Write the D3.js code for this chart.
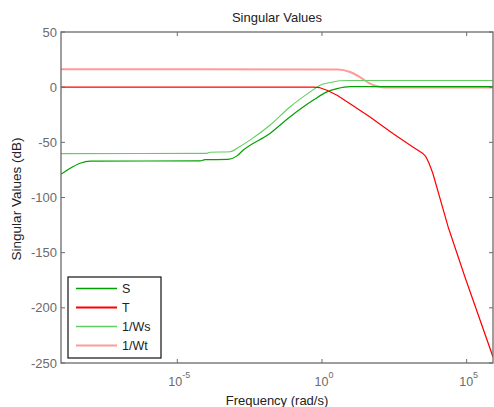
<!DOCTYPE html>
<html><head><meta charset="utf-8">
<script src="https://cdn.jsdelivr.net/npm/d3@7"></script>
<style>body{margin:0;background:#fff}svg{display:block;font-family:"Liberation Sans",Arial,sans-serif}</style>
</head><body><svg id="c" width="494" height="407"></svg>
<script>
// log10 frequency, dB
const sLogF = [-9.02,-8.70,-8.36,-8.01,-4.21,-4.04,-3.25,-2.95,-2.73,-1.80,-1.11,-0.31,0.17,0.52,0.97,5.91];
const sDb   = [-79,-73.5,-69,-67,-66.8,-65.7,-65.5,-62.5,-57.2,-42,-27,-11.9,-4.3,-1.3,0.5,0.5];
const tLogF = [-9.02,-0.31,-0.07,0.17,0.52,0.97,1.66,2.45,3.14,3.49,3.59,3.70,3.83,4.36,4.94,5.91];
const tDb   = [0,0,-0.5,-2.8,-7.3,-15,-27,-42,-54.2,-60.2,-63,-69,-78,-126.7,-172,-244.5];
const wsLogF = [-9.02,-3.97,-3.87,-3.18,-2.85,-2.49,-1.80,-1.11,-0.41,-0.07,0.28,0.62,0.97,5.91];
const wsDb   = [-60.2,-60,-59,-58.5,-54,-48,-34.5,-18,-4.3,1.7,4.2,5.8,6,6];
const wtLogF = [-9.02,0.55,0.97,1.31,1.66,1.90,2.18,5.91];
const wtDb   = [16.2,16,13.8,9.2,3.2,0.8,-0.4,-0.4];
const yTicks = [50,0,-50,-100,-150,-200,-250];
const xTickExp = [-5,0,5];
const seriesNames = ["S","T","1/Ws","1/Wt"];

const svg = d3.select("#c");
const L=61,R=493,T=32,B=363;
const x = d3.scaleLog().domain([Math.pow(10,-9.02),Math.pow(10,5.91)]).range([L,R]);
const y = d3.scaleLinear().domain([-250,50]).range([B,T]);
const axisCol="#6b6b6b";

const series = [
  {name:seriesNames[0], lf:sLogF, db:sDb, color:"#00a000", w:1.2, lw:1.4, c:d3.curveMonotoneX},
  {name:seriesNames[1], lf:tLogF, db:tDb, color:"#ff0000", w:1.2, lw:1.8, c:d3.curveLinear},
  {name:seriesNames[2], lf:wsLogF, db:wsDb, color:"#5fcf5f", w:1.1, lw:1.3, c:d3.curveMonotoneX},
  {name:seriesNames[3], lf:wtLogF, db:wtDb, color:"#ff9a9a", w:2, lw:2, c:d3.curveMonotoneX}
];
svg.append("defs").append("clipPath").attr("id","clip").append("rect")
  .attr("x",L).attr("y",T).attr("width",R-L).attr("height",B-T);
const g = svg.append("g").attr("clip-path","url(#clip)");
[3,2,0,1].forEach(i=>{
  const s=series[i];
  const line = d3.line().curve(s.c).x(d=>x(Math.pow(10,d[0]))).y(d=>y(d[1]));
  g.append("path").datum(s.lf.map((v,j)=>[v,s.db[j]]))
   .attr("d",line).attr("fill","none").attr("stroke",s.color).attr("stroke-width",s.w)
   .attr("stroke-linejoin","round");
});

// frame
svg.append("rect").attr("x",L).attr("y",T).attr("width",R-L).attr("height",B-T)
  .attr("fill","none").attr("stroke",axisCol).attr("stroke-width",1.3);

// y ticks
yTicks.forEach(v=>{
  svg.append("line").attr("x1",L).attr("x2",L+4).attr("y1",y(v)).attr("y2",y(v)).attr("stroke",axisCol);
  svg.append("line").attr("x1",R-4).attr("x2",R).attr("y1",y(v)).attr("y2",y(v)).attr("stroke",axisCol);
  svg.append("text").attr("x",L-4).attr("y",y(v)+4.5).attr("text-anchor","end")
    .attr("font-size",13).attr("fill",axisCol).text(v);
});
// x ticks
xTickExp.forEach(e=>{
  const px=x(Math.pow(10,e));
  svg.append("line").attr("x1",px).attr("x2",px).attr("y1",B).attr("y2",B-4).attr("stroke",axisCol);
  svg.append("line").attr("x1",px).attr("x2",px).attr("y1",T).attr("y2",T+4).attr("stroke",axisCol);
  const t=svg.append("text").attr("x",px+2).attr("y",386).attr("text-anchor","middle")
    .attr("font-size",12.5).attr("fill",axisCol);
  t.append("tspan").text("10");
  t.append("tspan").attr("dy",-8).attr("font-size",9).text(e);
});

// titles
svg.append("text").attr("x",277).attr("y",22).attr("text-anchor","middle")
  .attr("font-size",13).attr("fill","#222").text("Singular Values");
svg.append("text").attr("x",277).attr("y",405).attr("text-anchor","middle")
  .attr("font-size",13).attr("fill","#222").text("Frequency (rad/s)");
svg.append("text").attr("transform","translate(21,199) rotate(-90)").attr("text-anchor","middle")
  .attr("font-size",13.5).attr("fill","#222").text("Singular Values (dB)");

// legend
const lg = svg.append("g");
lg.append("rect").attr("x",68).attr("y",277).attr("width",93).attr("height",81)
  .attr("fill","#fff").attr("stroke","#111").attr("stroke-width",1.2);
series.forEach((s,i)=>{
  const yy=288.5+i*19;
  lg.append("line").attr("x1",76).attr("x2",117).attr("y1",yy).attr("y2",yy)
    .attr("stroke",s.color).attr("stroke-width",s.lw);
  lg.append("text").attr("x",122).attr("y",yy+4.5).attr("font-size",12.5).attr("fill","#222").text(s.name);
});
</script></body></html>
